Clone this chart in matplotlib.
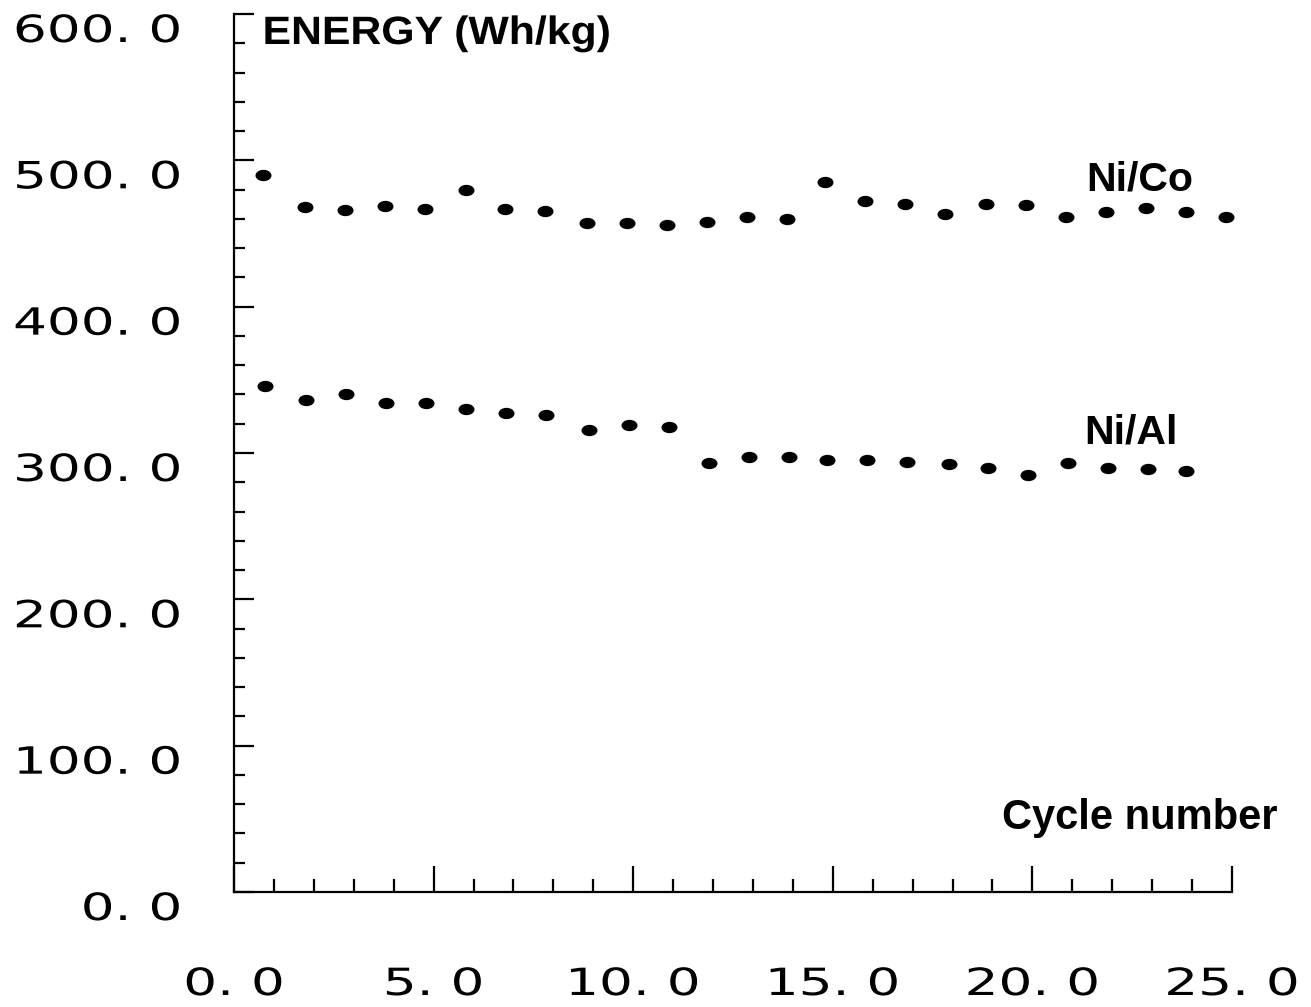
import matplotlib
matplotlib.use("Agg")
import matplotlib.pyplot as plt
import matplotlib.patheffects as pe
from matplotlib.path import Path
from matplotlib.transforms import Affine2D, ScaledTranslation
import numpy as np

# ---------------- data ----------------
nico_cycle = [0.73, 1.78, 2.78, 3.78, 4.78, 5.8, 6.8, 7.8, 8.85, 9.85, 10.85,
              11.85, 12.85, 13.85, 14.8, 15.8, 16.8, 17.8, 18.85, 19.85,
              20.85, 21.85, 22.85, 23.85, 24.85]
nico_energy = [490, 468, 466, 469, 466.5, 479.5, 467, 465.5, 457, 457.5, 455.5,
               458, 461.5, 460, 485.5, 472.5, 470, 463, 470.5, 469.5,
               461, 464.5, 467.5, 465, 461.5]

nial_cycle = [0.78, 1.8, 2.8, 3.8, 4.82, 5.82, 6.82, 7.82, 8.9, 9.9, 10.9,
              11.9, 12.9, 13.9, 14.85, 15.85, 16.85, 17.9, 18.9, 19.9,
              20.9, 21.9, 22.9, 23.85]
nial_energy = [346, 336.5, 340, 334, 334.5, 330, 327, 326, 315.5, 319, 318,
               293.5, 297, 297, 295.5, 295.5, 294, 292.5, 290, 285,
               293, 289.5, 289, 287.5]

x_ticks = [0, 5, 10, 15, 20, 25]
x_tick_labels = ["0. 0", "5. 0", "10. 0", "15. 0", "20. 0", "25. 0"]
y_ticks = [0, 100, 200, 300, 400, 500, 600]
y_tick_labels = ["0. 0", "100. 0", "200. 0", "300. 0", "400. 0", "500. 0", "600. 0"]

y_title = "ENERGY (Wh/kg)"
x_title = "Cycle number"
series_labels = ["Ni/Co", "Ni/Al"]


# ---------------- helper: horizontally stretched text ----------------
class Stretch(pe.AbstractPathEffect):
    def __init__(self, sx, anchor="right"):
        super().__init__()
        self.sx = sx
        self.anchor = anchor

    def draw_path(self, renderer, gc, tpath, affine, rgbFace=None):
        ext = tpath.get_extents(affine)
        if self.anchor == "right":
            x0 = ext.x1
        elif self.anchor == "left":
            x0 = ext.x0
        else:
            x0 = 0.5 * (ext.x0 + ext.x1)
        t = affine + Affine2D().translate(-x0, 0).scale(self.sx, 1.0).translate(x0, 0)
        renderer.draw_path(gc, tpath, t, rgbFace)


fig = plt.figure(figsize=(13.11, 10.07), dpi=100)
ax = fig.add_axes([234 / 1311, (1007 - 892) / 1007, (1232 - 234) / 1311, (892 - 14) / 1007])
ax.set_xlim(0, 25)
ax.set_ylim(0, 600)

blob = Path.unit_circle().transformed(Affine2D().scale(1.0, 0.68))
ax.plot(nico_cycle, nico_energy, linestyle="none", marker=blob, markersize=10.5,
        color="black", clip_on=False)
ax.plot(nial_cycle, nial_energy, linestyle="none", marker=blob, markersize=10.5,
        color="black", clip_on=False)

for s in ["top", "right"]:
    ax.spines[s].set_visible(False)
for s in ["left", "bottom"]:
    ax.spines[s].set_linewidth(1.6)

ax.set_xticks(x_ticks)
ax.set_xticks(np.arange(0, 26, 1), minor=True)
ax.set_yticks(y_ticks)
ax.set_yticks(np.arange(0, 601, 20), minor=True)
ax.set_xticklabels(x_tick_labels)
ax.set_yticklabels(y_tick_labels)

ax.tick_params(axis="x", which="major", direction="in", length=19, width=1.6, pad=54)
ax.tick_params(axis="x", which="minor", direction="in", length=9.5, width=1.6)
ax.tick_params(axis="y", which="major", direction="in", length=14.5, width=1.6, pad=38)
ax.tick_params(axis="y", which="minor", direction="in", length=8, width=1.6)

for lbl in ax.get_yticklabels():
    lbl.set_fontfamily("DejaVu Sans")
    lbl.set_fontsize(27)
    lbl.set_transform(lbl.get_transform() + ScaledTranslation(0, -0.14, fig.dpi_scale_trans))
    lbl.set_path_effects([Stretch(1.42, "right")])
for lbl in ax.get_xticklabels():
    lbl.set_fontfamily("DejaVu Sans")
    lbl.set_fontsize(27)
    lbl.set_path_effects([Stretch(1.42, "center")])

bold = dict(family="Liberation Sans", weight="bold", color="black")
t = ax.text(0.72, 587, y_title, fontsize=28.5, ha="left", va="center", clip_on=False, **bold)
t.set_path_effects([Stretch(1.08, "left")])
ax.text(21.35, 487, series_labels[0], fontsize=29.5, ha="left", va="center", **bold)
ax.text(21.3, 314, series_labels[1], fontsize=29.5, ha="left", va="center", **bold)
ax.text(19.25, 50.5, x_title, fontsize=30, ha="left", va="center", clip_on=False, **bold)

fig.savefig("out.png", dpi=100)
